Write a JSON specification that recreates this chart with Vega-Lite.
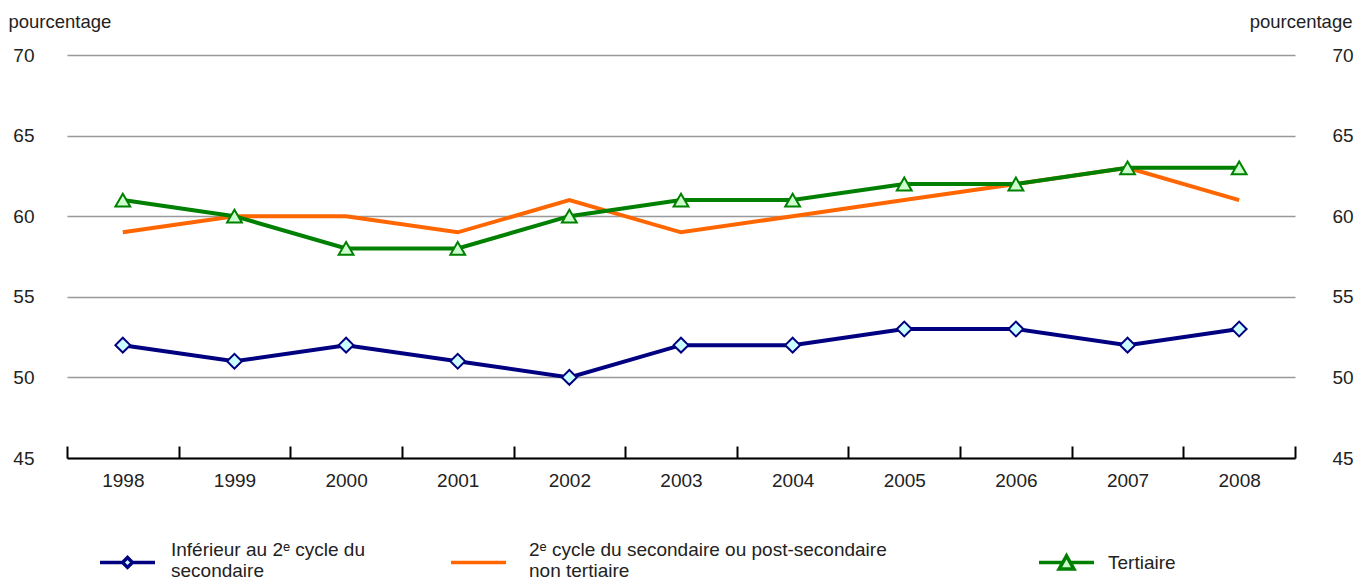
{
  "$schema": "https://vega.github.io/schema/vega-lite/v6.json",
  "width": 1228,
  "height": 403,
  "autosize": {"type": "none"},
  "padding": {"left": 67, "top": 55, "right": 72, "bottom": 126},
  "background": "white",
  "config": {
    "view": {"stroke": null},
    "font": "Liberation Sans",
    "axis": {"labelFont": "Liberation Sans", "titleFont": "Liberation Sans"},
    "legend": {"labelFont": "Liberation Sans"}
  },
  "data": {
    "values": [
      {"year": "1998", "series": "Inférieur au 2ᵉ cycle du|secondaire", "value": 52},
      {"year": "1999", "series": "Inférieur au 2ᵉ cycle du|secondaire", "value": 51},
      {"year": "2000", "series": "Inférieur au 2ᵉ cycle du|secondaire", "value": 52},
      {"year": "2001", "series": "Inférieur au 2ᵉ cycle du|secondaire", "value": 51},
      {"year": "2002", "series": "Inférieur au 2ᵉ cycle du|secondaire", "value": 50},
      {"year": "2003", "series": "Inférieur au 2ᵉ cycle du|secondaire", "value": 52},
      {"year": "2004", "series": "Inférieur au 2ᵉ cycle du|secondaire", "value": 52},
      {"year": "2005", "series": "Inférieur au 2ᵉ cycle du|secondaire", "value": 53},
      {"year": "2006", "series": "Inférieur au 2ᵉ cycle du|secondaire", "value": 53},
      {"year": "2007", "series": "Inférieur au 2ᵉ cycle du|secondaire", "value": 52},
      {"year": "2008", "series": "Inférieur au 2ᵉ cycle du|secondaire", "value": 53},
      {"year": "1998", "series": "2ᵉ cycle du secondaire ou post-secondaire|non tertiaire", "value": 59},
      {"year": "1999", "series": "2ᵉ cycle du secondaire ou post-secondaire|non tertiaire", "value": 60},
      {"year": "2000", "series": "2ᵉ cycle du secondaire ou post-secondaire|non tertiaire", "value": 60},
      {"year": "2001", "series": "2ᵉ cycle du secondaire ou post-secondaire|non tertiaire", "value": 59},
      {"year": "2002", "series": "2ᵉ cycle du secondaire ou post-secondaire|non tertiaire", "value": 61},
      {"year": "2003", "series": "2ᵉ cycle du secondaire ou post-secondaire|non tertiaire", "value": 59},
      {"year": "2004", "series": "2ᵉ cycle du secondaire ou post-secondaire|non tertiaire", "value": 60},
      {"year": "2005", "series": "2ᵉ cycle du secondaire ou post-secondaire|non tertiaire", "value": 61},
      {"year": "2006", "series": "2ᵉ cycle du secondaire ou post-secondaire|non tertiaire", "value": 62},
      {"year": "2007", "series": "2ᵉ cycle du secondaire ou post-secondaire|non tertiaire", "value": 63},
      {"year": "2008", "series": "2ᵉ cycle du secondaire ou post-secondaire|non tertiaire", "value": 61},
      {"year": "1998", "series": "Tertiaire", "value": 61},
      {"year": "1999", "series": "Tertiaire", "value": 60},
      {"year": "2000", "series": "Tertiaire", "value": 58},
      {"year": "2001", "series": "Tertiaire", "value": 58},
      {"year": "2002", "series": "Tertiaire", "value": 60},
      {"year": "2003", "series": "Tertiaire", "value": 61},
      {"year": "2004", "series": "Tertiaire", "value": 61},
      {"year": "2005", "series": "Tertiaire", "value": 62},
      {"year": "2006", "series": "Tertiaire", "value": 62},
      {"year": "2007", "series": "Tertiaire", "value": 63},
      {"year": "2008", "series": "Tertiaire", "value": 63}
    ]
  },
  "encoding": {
    "x": {
      "field": "year", "type": "ordinal", "title": null,
      "scale": {"type": "band", "paddingInner": 0, "paddingOuter": 0},
      "axis": {
        "orient": "bottom", "tickBand": "extent", "labelAngle": 0,
        "domainColor": "#000000", "domainWidth": 2,
        "tickColor": "#000000", "tickWidth": 2, "tickSize": -12,
        "labelFontSize": 19, "labelColor": "#222222", "labelPadding": 25,
        "grid": false
      }
    }
  },
  "layer": [
    {
      "mark": {"type": "line", "strokeWidth": 4},
      "encoding": {
        "y": {
          "field": "value", "type": "quantitative", "title": "pourcentage",
          "scale": {"domain": [45, 70], "nice": false, "zero": false},
          "axis": {
            "orient": "left", "values": [45, 50, 55, 60, 65, 70],
            "domain": false, "ticks": false, "grid": true,
            "gridColor": "#999999", "gridWidth": 1.6,
            "labelFontSize": 19, "labelColor": "#222222", "labelPadding": 33,
            "titleAngle": 0, "titleAlign": "left", "titleBaseline": "alphabetic",
            "titleX": -59, "titleY": -28, "titleFontSize": 18.5, "titleFontWeight": "normal", "titleColor": "#222222"
          }
        },
        "stroke": {
          "field": "series", "type": "nominal", "legend": null,
          "scale": {
            "domain": ["Inférieur au 2ᵉ cycle du|secondaire", "2ᵉ cycle du secondaire ou post-secondaire|non tertiaire", "Tertiaire"],
            "range": ["#000080", "#ff6600", "#008000"]
          }
        }
      }
    },
    {
      "transform": [{"filter": "datum.series !== '2ᵉ cycle du secondaire ou post-secondaire|non tertiaire'"}],
      "mark": {"type": "point", "strokeWidth": 2, "opacity": 1, "size": 220},
      "encoding": {
        "y": {
          "field": "value", "type": "quantitative", "title": "pourcentage",
          "scale": {"domain": [45, 70], "nice": false, "zero": false},
          "axis": {
            "orient": "right", "values": [45, 50, 55, 60, 65, 70],
            "domain": false, "ticks": false, "grid": false,
            "labelFontSize": 19, "labelColor": "#222222", "labelPadding": 37,
            "titleAngle": 0, "titleAlign": "right", "titleBaseline": "alphabetic",
            "titleX": 57, "titleY": -28, "titleFontSize": 18.5, "titleFontWeight": "normal", "titleColor": "#222222"
          }
        },
        "shape": {
          "field": "series", "type": "nominal", "legend": null,
          "scale": {"domain": ["Inférieur au 2ᵉ cycle du|secondaire", "Tertiaire"], "range": ["diamond", "triangle-up"]}
        },
        "fill": {
          "field": "series", "type": "nominal", "legend": null,
          "scale": {"domain": ["Inférieur au 2ᵉ cycle du|secondaire", "Tertiaire"], "range": ["#ccffff", "#ccffcc"]}
        },
        "stroke": {
          "field": "series", "type": "nominal", "legend": null,
          "scale": {"domain": ["Inférieur au 2ᵉ cycle du|secondaire", "Tertiaire"], "range": ["#000080", "#008000"]}
        }
      }
    },
    {
      "transform": [{"filter": "false"}],
      "mark": {"type": "point", "strokeWidth": 3.5, "opacity": 1},
      "encoding": {
        "shape": {
          "field": "series", "type": "nominal",
          "scale": {"domain": ["Inférieur au 2ᵉ cycle du|secondaire"], "range": ["M-1,0.47H-0.18M0.18,0.47H1M-0.18,0.47L0,0.29L0.18,0.47L0,0.65Z"]},
          "legend": {
            "orient": "none", "legendX": 31, "legendY": 465, "title": null, "padding": 0,
            "symbolSize": 3025, "symbolStrokeWidth": 3.5, "symbolOpacity": 1,
            "labelOffset": 14, "labelFontSize": 19, "labelColor": "#222222", "labelLimit": 600,
            "labelExpr": "split(datum.label, '|')"
          }
        },
        "fill": {
          "field": "series", "type": "nominal",
          "scale": {"domain": ["Inférieur au 2ᵉ cycle du|secondaire"], "range": ["#ccffff"]}
        },
        "stroke": {
          "field": "series", "type": "nominal",
          "scale": {"domain": ["Inférieur au 2ᵉ cycle du|secondaire"], "range": ["#000080"]}
        }
      }
    },
    {
      "transform": [{"filter": "false"}],
      "mark": {"type": "point", "strokeWidth": 3.5, "opacity": 1},
      "encoding": {
        "shape": {
          "field": "series", "type": "nominal",
          "scale": {"domain": ["2ᵉ cycle du secondaire ou post-secondaire|non tertiaire"], "range": ["M-1,0.47H1"]},
          "legend": {
            "orient": "none", "legendX": 382, "legendY": 465, "title": null, "padding": 0,
            "symbolSize": 3025, "symbolStrokeWidth": 3.5, "symbolOpacity": 1,
            "labelOffset": 21, "labelFontSize": 19, "labelColor": "#222222", "labelLimit": 600,
            "labelExpr": "split(datum.label, '|')"
          }
        },
        "fill": {
          "field": "series", "type": "nominal",
          "scale": {"domain": ["2ᵉ cycle du secondaire ou post-secondaire|non tertiaire"], "range": ["transparent"]}
        },
        "stroke": {
          "field": "series", "type": "nominal",
          "scale": {"domain": ["2ᵉ cycle du secondaire ou post-secondaire|non tertiaire"], "range": ["#ff6600"]}
        }
      }
    },
    {
      "transform": [{"filter": "false"}],
      "mark": {"type": "point", "strokeWidth": 3.5, "opacity": 1},
      "encoding": {
        "shape": {
          "field": "series", "type": "nominal",
          "scale": {"domain": ["Tertiaire"], "range": ["M-1,0H-0.135M0.135,0H1M-0.27,0.24L0,-0.24L0.27,0.24Z"]},
          "legend": {
            "orient": "none", "legendX": 970, "legendY": 478, "title": null, "padding": 0,
            "symbolSize": 3025, "symbolStrokeWidth": 3.5, "symbolOpacity": 1,
            "labelOffset": 12, "labelFontSize": 19, "labelColor": "#222222", "labelLimit": 600,
            "labelExpr": "split(datum.label, '|')"
          }
        },
        "fill": {
          "field": "series", "type": "nominal",
          "scale": {"domain": ["Tertiaire"], "range": ["#ccffcc"]}
        },
        "stroke": {
          "field": "series", "type": "nominal",
          "scale": {"domain": ["Tertiaire"], "range": ["#008000"]}
        }
      }
    }
  ],
  "resolve": {
    "scale": {"y": "independent", "shape": "independent", "fill": "independent", "stroke": "independent"},
    "axis": {"y": "independent"},
    "legend": {"shape": "independent", "fill": "independent", "stroke": "independent"}
  }
}
